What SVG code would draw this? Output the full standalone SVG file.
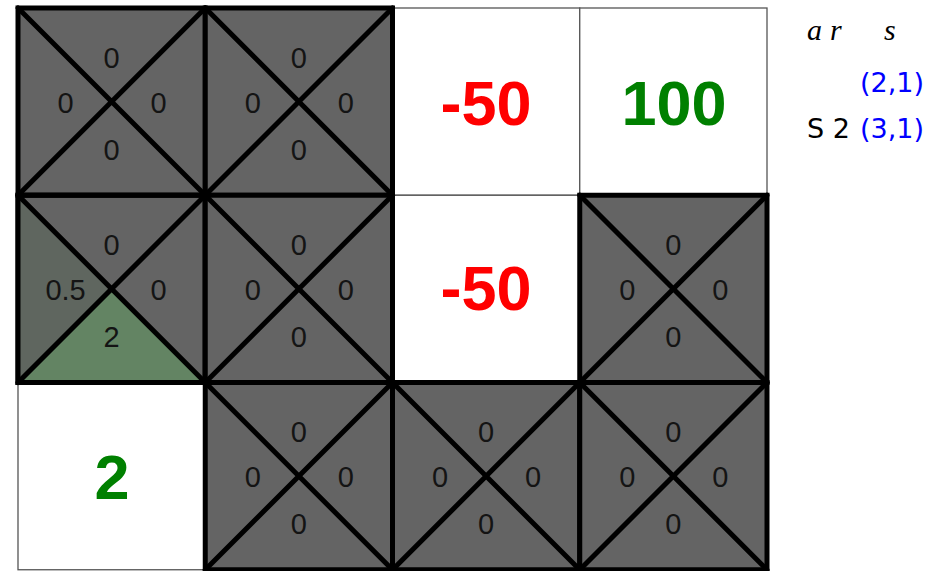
<svg xmlns="http://www.w3.org/2000/svg" width="931" height="571" viewBox="0 0 931 571">
<style>
.white{fill:#ffffff;stroke:#555555;stroke-width:1.3}
.gray{fill:#646464;stroke:#000000;stroke-width:5}
.diag{stroke:#000000;stroke-width:5;stroke-linecap:round;fill:none}
.q{font-family:"Liberation Sans",Arial,sans-serif;font-size:29px;fill:#141414;text-anchor:middle}
.big{font-family:"Liberation Sans",Arial,sans-serif;font-size:63px;font-weight:bold;text-anchor:middle}
.leg{font-family:"DejaVu Sans",sans-serif;font-size:27px}
.it{font-family:"Liberation Serif","Times New Roman",serif;font-style:italic;font-size:30px;fill:#000}
</style>
<defs>
<g id="xcell">
<rect class="gray" x="0" y="0" width="187.25" height="187.25"/>
<path class="diag" d="M0,0 L187.25,187.25 M187.25,0 L0,187.25"/>
</g>
<g id="zeros">
<text class="q" x="93.6" y="59.5">0</text>
<text class="q" x="47.6" y="104.5">0</text>
<text class="q" x="140.6" y="104.5">0</text>
<text class="q" x="93.6" y="151.5">0</text>
</g>
</defs>
<g id="cell-2-0"><rect class="white" x="392.5" y="8" width="187.25" height="187.25"/><text class="big" x="486" y="125" fill="#ff0000">-50</text></g>
<g id="cell-3-0"><rect class="white" x="579.75" y="8" width="187.25" height="187.25"/><text class="big" x="674" y="125" fill="#008000">100</text></g>
<g id="cell-2-1"><rect class="white" x="392.5" y="195.25" width="187.25" height="187.25"/><text class="big" x="486" y="310" fill="#ff0000">-50</text></g>
<g id="cell-0-2"><rect class="white" x="18" y="382.5" width="187.25" height="187.25"/><text class="big" x="112" y="499" fill="#008000">2</text></g>
<g id="cell-0-0" transform="translate(18,8)"><use href="#xcell"/><use href="#zeros"/></g>
<g id="cell-1-0" transform="translate(205.25,8)"><use href="#xcell"/><use href="#zeros"/></g>
<g id="cell-0-1" transform="translate(18,195.25)">
<rect class="gray" x="0" y="0" width="187.25" height="187.25"/>
<polygon points="0,0 93.6,93.6 0,187.25" fill="#5f665f"/>
<polygon points="0,187.25 93.6,93.6 187.25,187.25" fill="#638463"/>
<rect x="0" y="0" width="187.25" height="187.25" fill="none" stroke="#000" stroke-width="5"/>
<path class="diag" d="M0,0 L187.25,187.25 M187.25,0 L0,187.25"/>
<text class="q" x="93.6" y="59.5">0</text>
<text class="q" x="47.6" y="104.5">0.5</text>
<text class="q" x="140.6" y="104.5">0</text>
<text class="q" x="93.6" y="151.5">2</text>
</g>
<g id="cell-1-1" transform="translate(205.25,195.25)"><use href="#xcell"/><use href="#zeros"/></g>
<g id="cell-3-1" transform="translate(579.75,195.25)"><use href="#xcell"/><use href="#zeros"/></g>
<g id="cell-1-2" transform="translate(205.25,382.5)"><use href="#xcell"/><use href="#zeros"/></g>
<g id="cell-2-2" transform="translate(392.5,382.5)"><use href="#xcell"/><use href="#zeros"/></g>
<g id="cell-3-2" transform="translate(579.75,382.5)"><use href="#xcell"/><use href="#zeros"/></g>
<g id="connectors"></g>
<g id="legend">
<text class="it" x="807" y="40">a</text>
<text class="it" x="830" y="40">r</text>
<text class="it" x="884" y="40">s</text>
<text class="leg" x="924" y="92" fill="#0000ff" text-anchor="end">(2,1)</text>
<text class="leg" x="807" y="138" fill="#000000">S 2</text>
<text class="leg" x="924" y="138" fill="#0000ff" text-anchor="end">(3,1)</text>
</g>
</svg>
